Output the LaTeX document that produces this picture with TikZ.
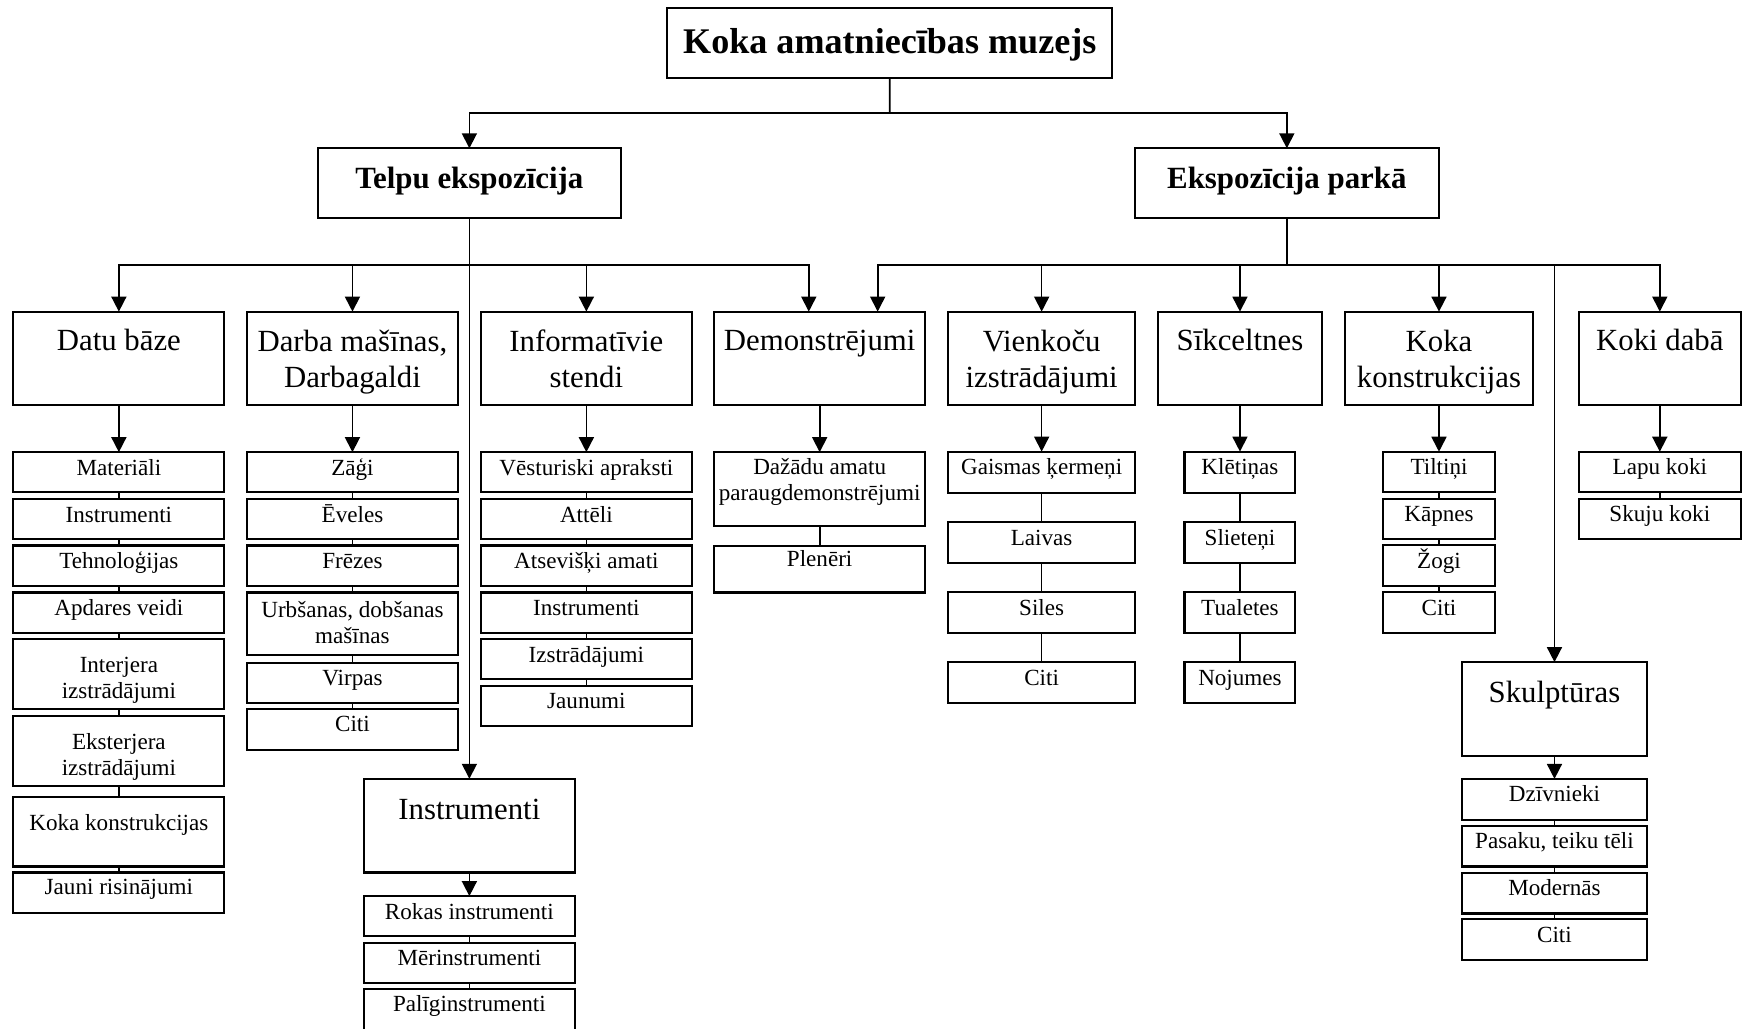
\documentclass[tikz,border=0pt]{standalone}
\usepackage{fontspec}
\setmainfont{Liberation Serif}
\usetikzlibrary{arrows.meta}
\tikzset{
  bx/.style={draw, line width=1.9pt, inner sep=0pt, outer sep=0pt, anchor=north west},
  tx/.style={inner sep=0pt, outer sep=0pt, align=center},
  ttl/.style={tx, anchor=base, font=\bfseries\fontsize{32.5}{38}\selectfont},
  grp/.style={tx, anchor=base, font=\bfseries\fontsize{27.8}{32}\selectfont},
  cat/.style={tx, anchor=base, font=\fontsize{27.7}{32.3}\selectfont},
  catm/.style={tx, anchor=north, font=\fontsize{27.7}{32.3}\selectfont},
  lf/.style={tx, anchor=base, font=\fontsize{20.8}{23.4}\selectfont},
  lfm/.style={tx, anchor=north, font=\fontsize{20.8}{23.4}\selectfont},
  conn/.style={line width=1.5pt},
  arr/.style={conn, -{Triangle[length=13.5pt,width=13.5pt]}},
}
% #1 text style, #2 name, #3 x, #4 y, #5 w, #6 h, #7 text offset, #8 text
\newcommand\mkbox[8]{%
  \node[bx, minimum width=#5pt, minimum height=#6pt] (#2) at (#3,#4) {};
  \node[#1] (#2t) at ([yshift=-#7pt]#2.north) {#8};
}
\begin{document}
\begin{tikzpicture}[x=1pt,y=-1pt]
\fill[white] (0,0) rectangle (1568,926.2);
\useasboundingbox (0,0) rectangle (1568,926.2);

% top levels
\mkbox{ttl}{top}{600.6}{7.5}{400.6}{63}{40.5}{Koka amatniecības muzejs}
\mkbox{grp}{telpu}{286}{133.5}{273}{63}{36}{Telpu ekspozīcija}
\mkbox{grp}{eksp}{1021.6}{133.5}{273.4}{63}{36}{Ekspozīcija parkā}

% categories
\mkbox{cat}{datu}{12}{280.5}{190}{84}{35.2}{Datu bāze}
\mkbox{catm}{darba}{222}{280.5}{190.5}{84}{16.4}{Darba mašīnas,\\Darbagaldi}
\mkbox{catm}{info}{433}{280.5}{189.6}{84}{16.4}{Informatīvie\\stendi}
\mkbox{cat}{demo}{643}{280.5}{189.6}{84}{35.2}{Demonstrējumi}
\mkbox{catm}{vienk}{853.6}{280.5}{168}{84}{16.4}{Vienkoču\\izstrādājumi}
\mkbox{cat}{sik}{1042.6}{280.5}{147}{84}{35.2}{Sīkceltnes}
\mkbox{catm}{koka}{1211}{280.5}{168.5}{84}{16.4}{Koka\\konstrukcijas}
\mkbox{cat}{koki}{1421}{280.5}{146}{84}{35.2}{Koki dabā}
\mkbox{cat}{instr}{327.5}{701}{190}{84.3}{36.3}{Instrumenti}
\mkbox{cat}{skulpt}{1316.2}{596}{166}{84.4}{36.1}{Skulptūras}

% Datu baze leaves
\mkbox{lf}{d1}{12}{407}{190}{36.2}{20.8}{Materiāli}
\mkbox{lf}{d2}{12}{449.2}{190}{36.1}{20.8}{Instrumenti}
\mkbox{lf}{d3}{12}{491}{190}{36.2}{20.8}{Tehnoloģijas}
\mkbox{lf}{d4}{12}{533.3}{190}{36.1}{20.8}{Apdares veidi}
\mkbox{lfm}{d5}{12}{575.1}{190}{62.9}{16.4}{Interjera\\izstrādājumi}
\mkbox{lfm}{d6}{12}{644.2}{190}{63.1}{15.9}{Eksterjera\\izstrādājumi}
\mkbox{lf}{d7}{12}{717.4}{190}{62.5}{29.7}{Koka konstrukcijas}
\mkbox{lf}{d8}{12}{785.3}{190}{36.8}{19.6}{Jauni risinājumi}

% Darba masinas leaves
\mkbox{lf}{r1}{222}{407}{190.5}{36.2}{20.8}{Zāģi}
\mkbox{lf}{r2}{222}{449.2}{190.5}{36.1}{20.8}{Ēveles}
\mkbox{lf}{r3}{222}{491}{190.5}{36.2}{20.8}{Frēzes}
\mkbox{lfm}{r4}{222}{533.3}{190.5}{56}{7.6}{Urbšanas, dobšanas\\mašīnas}
\mkbox{lf}{r5}{222}{596.5}{190.5}{36.1}{20.8}{Virpas}
\mkbox{lf}{r6}{222}{638}{190.5}{36.9}{20.8}{Citi}

% Informativie stendi leaves
\mkbox{lf}{i1}{433}{407}{189.6}{36.2}{20.8}{Vēsturiski apraksti}
\mkbox{lf}{i2}{433}{449.2}{189.6}{36.1}{20.8}{Attēli}
\mkbox{lf}{i3}{433}{491}{189.6}{36.2}{20.8}{Atsevišķi amati}
\mkbox{lf}{i4}{433}{533.3}{189.6}{36.1}{20.8}{Instrumenti}
\mkbox{lf}{i5}{433}{575.2}{189.6}{36.1}{20.8}{Izstrādājumi}
\mkbox{lf}{i6}{433}{617.1}{189.6}{36.1}{20.8}{Jaunumi}

% Demonstrejumi leaves
\mkbox{lfm}{e1}{643}{407}{189.6}{66.1}{5.7}{Dažādu amatu\\paraugdemonstrējumi}
\mkbox{lf}{e2}{643}{491.1}{189.6}{42.2}{18.8}{Plenēri}

% Instrumenti leaves
\mkbox{lf}{n1}{327.5}{806.6}{190}{36.2}{20.8}{Rokas instrumenti}
\mkbox{lf}{n2}{327.5}{848.5}{190}{36.1}{20.8}{Mērinstrumenti}
\mkbox{lf}{n3}{327.5}{890}{190}{40}{20.8}{Palīginstrumenti}

% Vienkocu leaves
\mkbox{lf}{v1}{853.6}{406.5}{168}{36.9}{21}{Gaismas ķermeņi}
\mkbox{lf}{v2}{853.6}{470.1}{168}{36.9}{21}{Laivas}
\mkbox{lf}{v3}{853.6}{533.1}{168}{36.9}{21}{Siles}
\mkbox{lf}{v4}{853.6}{596.1}{168}{36.9}{21}{Citi}

% Sikceltnes leaves
\mkbox{lf}{s1}{1066.2}{406.5}{99.8}{36.9}{21}{Klētiņas}
\mkbox{lf}{s2}{1066.2}{470.1}{99.8}{36.9}{21}{Slieteņi}
\mkbox{lf}{s3}{1066.2}{533.1}{99.8}{36.9}{21}{Tualetes}
\mkbox{lf}{s4}{1066.2}{596.1}{99.8}{36.9}{21}{Nojumes}

% Koka konstrukcijas leaves
\mkbox{lf}{k1}{1245.15}{406.6}{100.2}{36.6}{20.8}{Tiltiņi}
\mkbox{lf}{k2}{1245.15}{448.9}{100.2}{36.6}{20.8}{Kāpnes}
\mkbox{lf}{k3}{1245.15}{490.9}{100.2}{36.6}{20.8}{Žogi}
\mkbox{lf}{k4}{1245.15}{533}{100.2}{36.6}{20.8}{Citi}

% Koki daba leaves
\mkbox{lf}{t1}{1421}{406.6}{146}{36.6}{20.8}{Lapu koki}
\mkbox{lf}{t2}{1421}{448.9}{146}{36.6}{20.8}{Skuju koki}

% Skulpturas leaves
\mkbox{lf}{u1}{1316.2}{701.1}{166}{36.8}{20.6}{Dzīvnieki}
\mkbox{lf}{u2}{1316.2}{743.1}{166}{36.8}{20.6}{Pasaku, teiku tēli}
\mkbox{lf}{u3}{1316.2}{785.4}{166}{36.8}{20.6}{Modernās}
\mkbox{lf}{u4}{1316.2}{827.5}{166}{36.8}{20.6}{Citi}

% connectors: top
\coordinate (j0) at (800.9,102);
\draw[conn] (top.south) -- (j0);
\draw[arr] (j0) -| (telpu.north);
\draw[arr] (j0) -| (eksp.north);

% Telpu group
\coordinate (jT) at (422.5,238.5);
\draw[arr] (telpu.south) -- (instr.north);
\draw[arr] (jT) -| (datu.north);
\draw[arr] (jT) -| (darba.north);
\draw[arr] (jT) -| (info.north);
\draw[arr] (jT) -| ([xshift=-9.8pt]demo.north);

% Ekspozicija group
\coordinate (jE) at (1158.3,238.5);
\draw[conn] (eksp.south) -- (jE);
\draw[arr] (jE) -| ([xshift=52.2pt]demo.north);
\draw[arr] (jE) -| (vienk.north);
\draw[arr] (jE) -| (sik.north);
\draw[arr] (jE) -| (koka.north);
\draw[arr] (jE) -| (koki.north);
\draw[arr] (jE) -| (skulpt.north);

% category -> leaves
\draw[arr] (datu.south) -- (d1.north);
\foreach \a/\b in {d1/d2,d2/d3,d3/d4,d4/d5,d5/d6,d6/d7,d7/d8}
  \draw[conn] (\a.south) -- (\b.north);
\draw[arr] (darba.south) -- (r1.north);
\foreach \a/\b in {r1/r2,r2/r3,r3/r4,r4/r5,r5/r6}
  \draw[conn] (\a.south) -- (\b.north);
\draw[arr] (info.south) -- (i1.north);
\foreach \a/\b in {i1/i2,i2/i3,i3/i4,i4/i5,i5/i6}
  \draw[conn] (\a.south) -- (\b.north);
\draw[arr] (demo.south) -- (e1.north);
\draw[conn] (e1.south) -- (e2.north);
\draw[arr] (instr.south) -- (n1.north);
\foreach \a/\b in {n1/n2,n2/n3}
  \draw[conn] (\a.south) -- (\b.north);
\draw[arr] (vienk.south) -- (v1.north);
\foreach \a/\b in {v1/v2,v2/v3,v3/v4}
  \draw[conn] (\a.south) -- (\b.north);
\draw[arr] (sik.south) -- (s1.north);
\foreach \a/\b in {s1/s2,s2/s3,s3/s4}
  \draw[conn] (\a.south) -- (\b.north);
\draw[arr] (koka.south) -- (k1.north);
\foreach \a/\b in {k1/k2,k2/k3,k3/k4}
  \draw[conn] (\a.south) -- (\b.north);
\draw[arr] (koki.south) -- (t1.north);
\draw[conn] (t1.south) -- (t2.north);
\draw[arr] (skulpt.south) -- (u1.north);
\foreach \a/\b in {u1/u2,u2/u3,u3/u4}
  \draw[conn] (\a.south) -- (\b.north);
\end{tikzpicture}
\end{document}
